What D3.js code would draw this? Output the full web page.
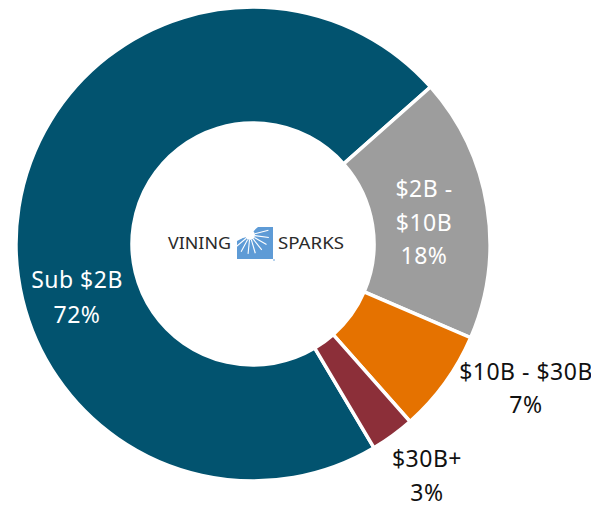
<!DOCTYPE html>
<html>
<head>
<meta charset="utf-8">
<script src="https://cdn.jsdelivr.net/npm/d3@7"></script>
<style>
  body { margin: 0; background: #fff; }
  svg { display: block; }
  .slice-label { font-family: "Noto Sans", sans-serif; font-size: 23px; letter-spacing: 0.5px; }
  .logo-text { font-family: "Noto Sans", sans-serif; font-size: 17px; fill: #2a2a2a; }
</style>
</head>
<body>
<div id="chart"></div>
<script>
// values
const categories = ["Sub $2B", "$2B - $10B", "$10B - $30B", "$30B+"];
const shares = [72, 18, 7, 3];
const labelLines = [["Sub $2B", "72%"], ["$2B -", "$10B", "18%"], ["$10B - $30B", "7%"], ["$30B+", "3%"]];
const colors = ["#02536F", "#9D9D9D", "#E57200", "#8C2F39"];
const labelColors = ["#fff", "#fff", "#111", "#111"];

// where each label block sits, relative to the donut centre (first baseline)
const labelLayout = [
    {dx: -176, dy: 44, lh: 35},
    {dx: 171, dy: -47, lh: 33.5},
    {dx: 273, dy: 136, lh: 33},
    {dx: 174, dy: 223, lh: 34}
];

const width = 591, height = 507;
const cx = 253, cy = 244;
const outerR = 237, innerR = 121;
const start = 149.3 * Math.PI / 180;

const svg = d3.select("#chart").append("svg")
    .attr("width", width)
    .attr("height", height);

const g = svg.append("g")
    .attr("transform", `translate(${cx},${cy})`);

const data = categories.map((c, i) => ({name: c, value: shares[i], i: i}));

const pie = d3.pie()
    .sort(null)
    .value(d => d.value)
    .startAngle(start)
    .endAngle(start + 2 * Math.PI);

const arc = d3.arc()
    .innerRadius(innerR)
    .outerRadius(outerR);

g.selectAll(".slice")
    .data(pie(data))
    .enter()
    .append("path")
    .attr("class", "slice")
    .attr("d", arc)
    .style("fill", d => colors[d.data.i])
    .style("stroke", "#fff")
    .style("stroke-width", 3.5)
    .style("stroke-linejoin", "miter");

const labels = g.selectAll(".slice-label")
    .data(data)
    .enter()
    .append("text")
    .attr("class", "slice-label")
    .attr("text-anchor", "middle")
    .style("fill", d => labelColors[d.i]);

labels.each(function(d) {
    let lay = labelLayout[d.i];
    d3.select(this).selectAll("tspan")
        .data(labelLines[d.i])
        .enter()
        .append("tspan")
        .attr("x", lay.dx)
        .attr("y", (t, j) => lay.dy + j * lay.lh)
        .text(t => t);
});

// logo in the hole
const logo = g.append("g").attr("class", "logo");

logo.append("text")
    .attr("class", "logo-text")
    .attr("x", -85)
    .attr("y", 5)
    .attr("textLength", 63)
    .attr("lengthAdjust", "spacingAndGlyphs")
    .text("VINING");

logo.append("text")
    .attr("class", "logo-text")
    .attr("x", 25)
    .attr("y", 5)
    .attr("textLength", 66)
    .attr("lengthAdjust", "spacingAndGlyphs")
    .text("SPARKS");

const mark = logo.append("g").attr("transform", "translate(-16,-17)");
mark.append("clipPath").attr("id", "markClip")
    .append("rect").attr("width", 36).attr("height", 32);
const inner = mark.append("g").attr("clip-path", "url(#markClip)");
inner.append("rect")
    .attr("width", 36).attr("height", 32)
    .style("fill", "#5E9BD6");
inner.append("path")
    .attr("d", "M0,0 L21,0 Q16,4 13,9 Q6,10 0,14 Z")
    .style("fill", "#fff");
inner.append("circle")
    .attr("cx", 13).attr("cy", 8).attr("r", 5)
    .style("fill", "#fff");
const rays = d3.range(9).map(k => -0.08 * Math.PI + k * (0.98 * Math.PI / 8));
inner.selectAll(".ray")
    .data(rays)
    .enter()
    .append("line")
    .attr("x1", a => 13 + 5 * Math.cos(a))
    .attr("y1", a => 8 + 5 * Math.sin(a))
    .attr("x2", a => 13 + 19 * Math.cos(a))
    .attr("y2", a => 8 + 19 * Math.sin(a))
    .style("stroke", "#fff")
    .style("stroke-width", 1.1);
logo.append("circle")
    .attr("cx", 21).attr("cy", 16).attr("r", 0.8)
    .style("fill", "#5E9BD6");
</script>
</body>
</html>
